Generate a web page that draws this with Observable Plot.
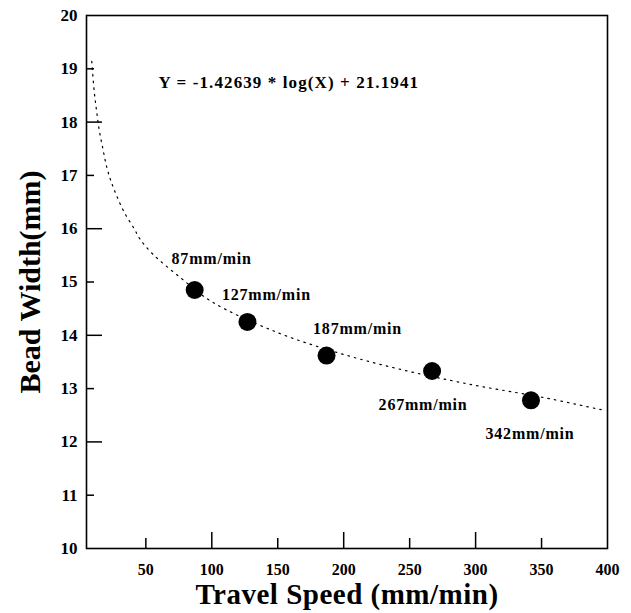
<!DOCTYPE html>
<html>
<head>
<meta charset="utf-8">
<script src="https://cdn.jsdelivr.net/npm/d3@7"></script>
<script src="https://cdn.jsdelivr.net/npm/@observablehq/plot@0.6"></script>
<style>
  html, body { margin: 0; padding: 0; background: #fff; }
  #chart { width: 631px; height: 613px; }
</style>
</head>
<body>
<div id="chart"></div>
<script>
// Measured points
const speeds = [87, 127, 187, 267, 342];
const widths = [14.85, 14.25, 13.62, 13.33, 12.78];
const pointLabels = ["87mm/min", "127mm/min", "187mm/min", "267mm/min", "342mm/min"];

// Fitted curve
const curveX = [9.0, 10.8, 12.6, 14.6, 17.4, 20.4, 23.2, 27.5, 33.8, 41.4, 45.2, 55.0, 76.3, 100, 150, 200, 250, 300, 350, 396];
const curveY = [19.14, 18.59, 18.22, 17.86, 17.50, 17.15, 16.92, 16.64, 16.30, 15.99, 15.82, 15.53, 15.08, 14.63, 14.05, 13.64, 13.32, 13.06, 12.84, 12.60];

// Axis ticks
const xTickLabels = [50, 100, 150, 200, 250, 300, 350, 400];
const xMajorTicks = [100, 200, 300];
const xMinorTicks = [50, 150, 250, 350];
const yTickLabels = [10, 11, 12, 13, 14, 15, 16, 17, 18, 19, 20];
const yMajorTicks = [12, 14, 16, 18];
const yMinorTicks = [11, 13, 15, 17, 19];

const equation = "Y = -1.42639 * log(X) + 21.1941";
const xTitle = "Travel Speed (mm/min)";
const yTitle = "Bead Width(mm)";

const points = speeds.map((s, i) => ({x: s, y: widths[i], label: pointLabels[i]}));
const curve = curveX.map((x, i) => ({x, y: curveY[i]}));

const W = 631, H = 613;
const mL = 86, mR = 24, mT = 15, mB = 65;
const innerW = W - mL - mR, innerH = H - mT - mB;

// label offsets (dx, dy) per point
const labelOffsets = [[17, -31], [19, -27], [31, -27], [-9, 34], [-1, 34]];

const chart = Plot.plot({
  width: W,
  height: H,
  marginLeft: mL,
  marginRight: mR,
  marginTop: mT,
  marginBottom: mB,
  style: {fontFamily: "'Liberation Serif', 'Times New Roman', serif", fontWeight: "bold", background: "#fff", color: "#000"},
  x: {domain: [5, 400], axis: null},
  y: {domain: [10, 20], axis: null},
  marks: [
    Plot.frame({stroke: "#000", strokeWidth: 1.6}),
    Plot.ruleY(yMajorTicks, {y: d => d, stroke: "#000", strokeWidth: 1.5, insetRight: innerW - 16}),
    Plot.ruleY(yMinorTicks, {y: d => d, stroke: "#000", strokeWidth: 1.5, insetRight: innerW - 8}),
    Plot.ruleX(xMajorTicks, {x: d => d, stroke: "#000", strokeWidth: 1.5, insetTop: innerH - 16}),
    Plot.ruleX(xMinorTicks, {x: d => d, stroke: "#000", strokeWidth: 1.5, insetTop: innerH - 10}),
    Plot.axisY({ticks: yTickLabels, tickSize: 0, tickPadding: 9, fontSize: 17, fontWeight: "bold", label: null, tickFormat: d => String(d)}),
    Plot.axisX({ticks: xTickLabels, tickSize: 0, tickPadding: 15, fontSize: 16, fontWeight: "bold", label: null, tickFormat: d => String(d)}),
    Plot.line(curve, {x: "x", y: "y", curve: "catmull-rom", stroke: "#000", strokeWidth: 1.2, strokeDasharray: "1.6,5"}),
    Plot.dot(points, {x: "x", y: "y", r: 9, fill: "#000", stroke: "none"}),
    ...points.map((p, i) => Plot.text([p], {x: "x", y: "y", text: "label", dx: labelOffsets[i][0], dy: labelOffsets[i][1], fontSize: 16, fontWeight: "bold", fill: "#000"})),
    Plot.text([equation], {frameAnchor: "top-left", dx: 72, dy: 67, text: d => d, textAnchor: "start", lineAnchor: "middle", fontSize: 17, fontWeight: "bold", fill: "#000"}),
    Plot.text([xTitle], {frameAnchor: "bottom", dy: 46, text: d => d, textAnchor: "middle", lineAnchor: "middle", fontSize: 29, fontWeight: "bold", fill: "#000"}),
    Plot.text([yTitle], {frameAnchor: "left", dx: -56, rotate: -90, text: d => d, textAnchor: "middle", lineAnchor: "middle", fontSize: 30, fontWeight: "bold", fill: "#000"})
  ]
});
document.getElementById("chart").appendChild(chart);

// letter spacing to match the wider scanned lettering
const spacing = new Map([[equation, "1.1px"], [xTitle, "0.5px"]]);
pointLabels.forEach(l => spacing.set(l, "0.8px"));
d3.select(chart).selectAll("text").each(function () {
  const s = spacing.get(this.textContent);
  if (s) this.setAttribute("letter-spacing", s);
});
</script>
</body>
</html>
